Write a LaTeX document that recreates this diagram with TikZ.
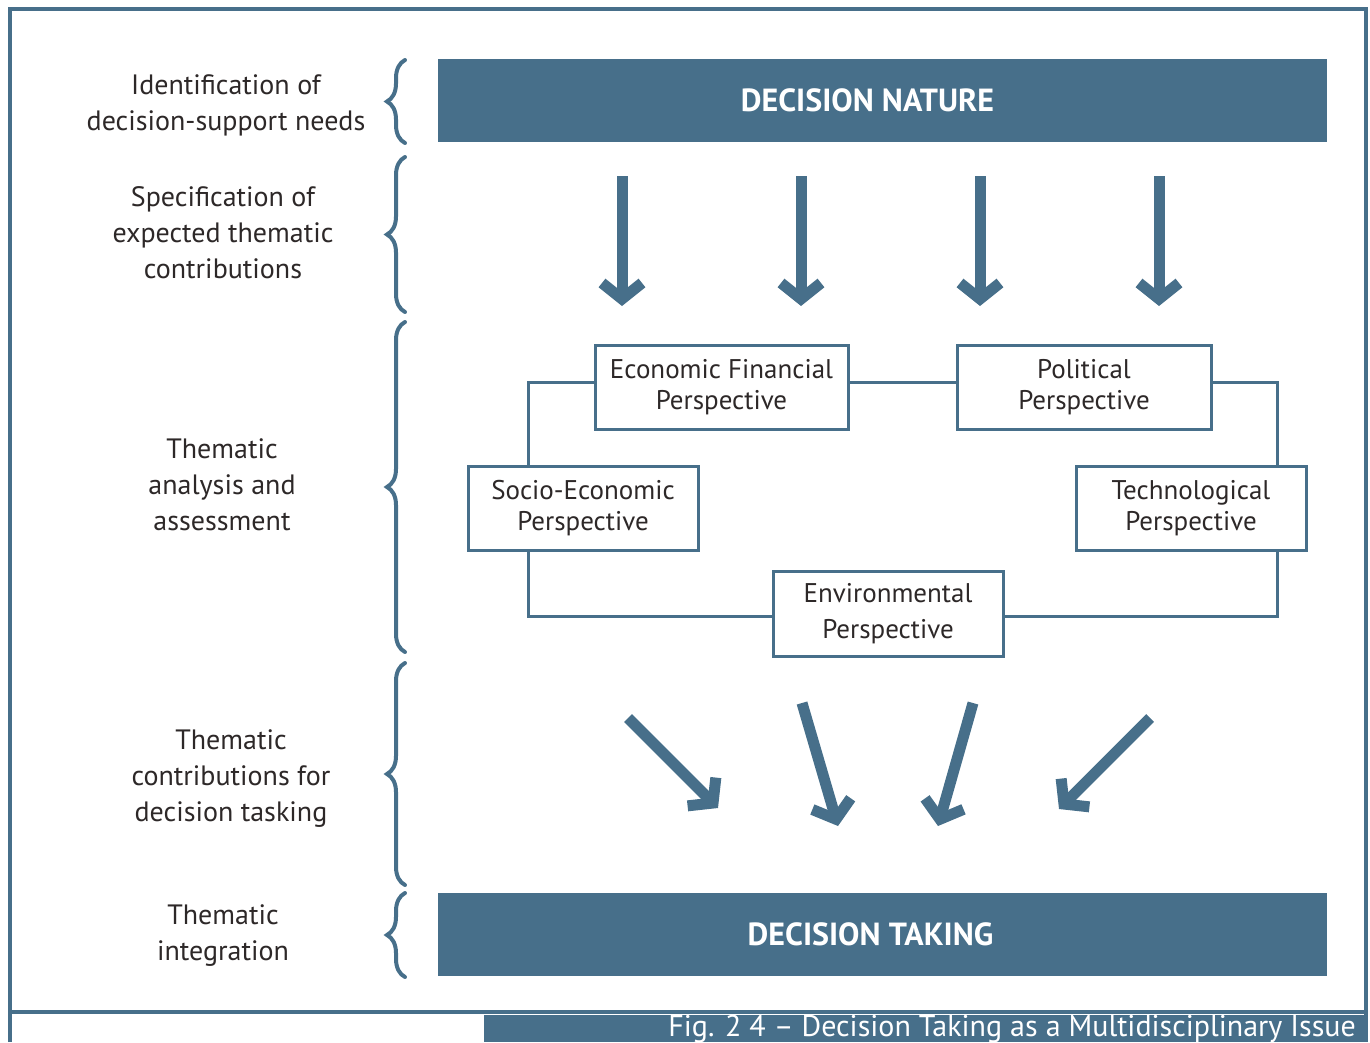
\documentclass[tikz,border=0pt]{standalone}
\usepackage{fontspec}
\setmainfont{PT Sans}
\usetikzlibrary{arrows.meta,decorations.pathreplacing,positioning}
\definecolor{steel}{RGB}{71,111,138}
\definecolor{ink}{RGB}{45,40,40}

\tikzset{
  persp/.style={draw=steel, line width=3pt, fill=white, align=center, text=ink,
    font=\fontsize{27}{31}\selectfont, minimum width=230pt, minimum height=84pt, inner sep=0pt},
  bar/.style={fill=steel, minimum width=889pt, minimum height=83pt, inner sep=0pt},
  bartext/.style={text=white, font=\bfseries\fontsize{32}{36}\selectfont},
  stage/.style={align=center, text=ink, font=\fontsize{28}{36}\selectfont},
  link/.style={draw=steel, line width=3pt},
  bracket/.style={draw=steel, line width=4pt, line cap=round, decorate,
    decoration={brace, amplitude=18pt}},
  bigarrow/.style={draw=steel, line width=11pt, -{Straight Barb[length=16pt, width=40pt]}}
}

\begin{document}
\begin{tikzpicture}[x=1pt,y=-1pt]
\useasboundingbox (0,0) rectangle (1370,1042);
\clip (0,0) rectangle (1370,1042);

% frame and caption
\draw[steel, line width=3.5pt] (10,1042) -- (10,9) -- (1366,9) -- (1366,1042);
\draw[steel, line width=3.5pt] (10,1012) -- (1366,1012);
\fill[steel] (484,1015) rectangle (1366,1042);
\node[anchor=base east, inner sep=0pt, text=white, font=\fontsize{30}{30}\selectfont] (caption) at (1356,1036)
  {Fig. 2 4 – Decision Taking as a Multidisciplinary Issue};

% top and bottom bars
\node[bar] (nature) at (882.5,100.5) {};
\node[bartext] (naturetext) at ([xshift=-15pt]nature.center) {DECISION NATURE};
\node[bar] (taking) at (882.5,934.5) {};
\node[bartext] (takingtext) at ([xshift=-12pt]taking.center) {DECISION TAKING};

% stages on the left
\node[stage] (needs) at (226,105) {Identification of\\decision-support needs};
\node[stage] (spec) at (223,233) {Specification of\\expected thematic\\contributions};
\node[stage] (analysis) at (222,485) {Thematic\\analysis and\\assessment};
\node[stage] (contrib) at (231,779) {Thematic\\contributions for\\decision tasking};
\node[stage] (integ) at (223,936) {Thematic\\integration};

\foreach \a/\b in {143/60, 312/157, 652/322, 885/663, 977/893}
  \draw[bracket] (405,\a) -- (405,\b);

% perspectives
\node[persp, minimum width=253pt] (econ) at (721.5,387) {Economic Financial\\Perspective};
\node[persp, minimum width=254pt] (polit) at (1084,387) {Political\\Perspective};
\node[persp] (socio) at (583,508) {Socio-Economic\\Perspective};
\node[persp] (tech) at (1191,508) {Technological\\Perspective};
\node[persp, minimum height=85pt, font=\fontsize{27}{36}\selectfont] (env) at (888,613.5) {Environmental\\Perspective};

\coordinate (lrail) at (528,0);
\coordinate (rrail) at (1277,0);
\draw[link] ([yshift=5pt]econ.west) -| (lrail |- socio.north);
\draw[link] ([yshift=5pt]econ.east) -- ([yshift=5pt]polit.west);
\draw[link] ([yshift=5pt]polit.east) -| (rrail |- tech.north);
\draw[link] (lrail |- socio.south) |- ([yshift=-2.5pt]env.west);
\draw[link] (rrail |- tech.south) |- ([yshift=-2.5pt]env.east);

% arrows in and out
\foreach \x [count=\i] in {622,801,980,1159} {
  \coordinate (from\i) at (\x,176);
  \coordinate (to\i) at (\x,306);
  \draw[bigarrow] (from\i) -- (to\i);
}
\coordinate (out1) at (628,718);
\coordinate (out2) at (802,703);
\coordinate (out3) at (973,703);
\coordinate (out4) at (1150,718);
\coordinate (in1) at (718,808);
\coordinate (in2) at (838,826);
\coordinate (in3) at (938,826);
\coordinate (in4) at (1059,809);
\foreach \i in {1,...,4}
  \draw[bigarrow] (out\i) -- (in\i);

\end{tikzpicture}
\end{document}
